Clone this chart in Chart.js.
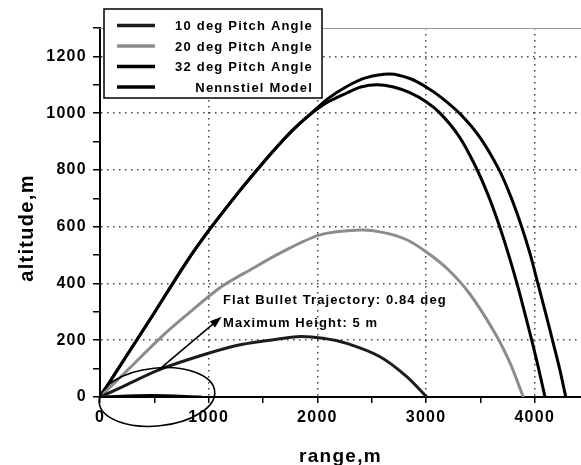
<!DOCTYPE html>
<html>
<head>
<meta charset="utf-8">
<title>Trajectories</title>
<script src="https://cdn.jsdelivr.net/npm/chart.js@4.4.0/dist/chart.umd.min.js"></script>
<style>
html, body { margin: 0; padding: 0; background: #fff; }
canvas { display: block; }
</style>
</head>
<body>
<canvas id="myChart" width="581" height="465"></canvas>
<script>
// values: range (m) and altitude (m) for each trajectory
var range10 = [0, 200, 537, 997, 1300, 1656, 1840, 2050, 2270, 2576, 2822, 3006]
var alt10   = [0, 35, 95, 154, 185, 205, 213, 207, 189, 142, 72, 0]

var range20 = [0, 300, 568, 800, 1119, 1400, 1656, 2024, 2392, 2600, 2822, 3006, 3200, 3404, 3634, 3772, 3894]
var alt20   = [0, 112, 213, 290, 389, 452, 507, 571, 588, 580, 554, 510, 450, 362, 225, 120, 0]

var range32 = [0, 200, 500, 800, 1012, 1272, 1518, 1656, 1794, 1950, 2100, 2270, 2400, 2546, 2700, 2850, 3000, 3128, 3300, 3445, 3570, 3672, 3760, 3836, 3905, 3972, 4035, 4094]
var alt32   = [0, 119, 297, 478, 592, 720, 833, 893, 948, 1000, 1040, 1071, 1092, 1100, 1092, 1072, 1040, 1000, 920, 820, 712, 605, 500, 400, 300, 200, 100, 0]

var rangeNen = [0, 200, 500, 800, 1012, 1272, 1518, 1656, 1794, 1950, 2100, 2270, 2450, 2668, 2850, 3000, 3150, 3332, 3500, 3672, 3780, 3879, 3960, 4028, 4100, 4166, 4228, 4285]
var altNen   = [0, 119, 297, 478, 592, 720, 833, 893, 948, 1002, 1052, 1094, 1125, 1138, 1122, 1092, 1052, 990, 912, 800, 705, 600, 500, 400, 295, 195, 100, 0]

// the 0.84 deg flat shot, hidden in the ellipse
var rangeFlat = [0, 470, 936]
var altFlat   = [0, 5, 0]

var seriesNames = ['10 deg Pitch Angle', '20 deg Pitch Angle', '32 deg Pitch Angle', 'Nennstiel Model']
var xTicks = [0, 500, 1000, 1500, 2000, 2500, 3000, 3500, 4000]
var xLabelStep = 1000
var yLabelStep = 200

var note1 = 'Flat Bullet Trajectory: 0.84 deg'
var note2 = 'Maximum Height: 5 m'
var arrowFrom = [537, 95]
var arrowTo = [1119, 283]
var ellipseCenter = [524, 0]
var ellipseRadius = [534, 102]

function toPoints(xs, ys){
    var pts = []
    for(let i=0;i<xs.length;i++){
        pts.push({x: xs[i], y: ys[i]})
    }
    return pts
}

var FONT = 'Arial, "Liberation Sans", sans-serif'
Chart.defaults.font.family = FONT
Chart.defaults.color = '#000'

var extras = {
    id: 'extras',
    beforeLayout(chart){ chart.ctx.letterSpacing = '1.3px' },
    beforeDraw(chart){ chart.ctx.letterSpacing = '1.3px' },
    afterDraw(chart){
        var ctx = chart.ctx
        var xs = chart.scales.x, ys = chart.scales.y
        var area = chart.chartArea
        ctx.save()

        // thin frame line on top of the plot
        ctx.strokeStyle = '#999'
        ctx.lineWidth = 1
        ctx.beginPath()
        ctx.moveTo(area.left, area.top + 0.5)
        ctx.lineTo(area.right, area.top + 0.5)
        ctx.stroke()

        // ellipse round the flat shot
        ctx.strokeStyle = '#000'
        ctx.lineWidth = 1.6
        var cx = xs.getPixelForValue(ellipseCenter[0]), cy = ys.getPixelForValue(ellipseCenter[1])
        var rx = xs.getPixelForValue(ellipseCenter[0] + ellipseRadius[0]) - cx
        var ry = cy - ys.getPixelForValue(ellipseCenter[1] + ellipseRadius[1])
        ctx.beginPath()
        ctx.ellipse(cx, cy, rx, ry, -0.1, 0, Math.PI * 2)
        ctx.stroke()

        // arrow to the note
        var ax = xs.getPixelForValue(arrowFrom[0]), ay = ys.getPixelForValue(arrowFrom[1])
        var bx = xs.getPixelForValue(arrowTo[0]), by = ys.getPixelForValue(arrowTo[1])
        var ang = Math.atan2(by - ay, bx - ax)
        ctx.lineWidth = 1.6
        ctx.beginPath()
        ctx.moveTo(ax, ay)
        ctx.lineTo(bx - 8 * Math.cos(ang), by - 8 * Math.sin(ang))
        ctx.stroke()
        ctx.fillStyle = '#000'
        ctx.beginPath()
        ctx.moveTo(bx, by)
        ctx.lineTo(bx - 12 * Math.cos(ang) + 4 * Math.sin(ang), by - 12 * Math.sin(ang) - 4 * Math.cos(ang))
        ctx.lineTo(bx - 12 * Math.cos(ang) - 4 * Math.sin(ang), by - 12 * Math.sin(ang) + 4 * Math.cos(ang))
        ctx.closePath()
        ctx.fill()

        // notes
        ctx.letterSpacing = '1.1px'
        ctx.font = 'bold 13px ' + FONT
        ctx.textAlign = 'left'
        ctx.textBaseline = 'middle'
        ctx.fillText(note1, 223, 300)
        ctx.fillText(note2, 223, 323)

        // axis titles
        ctx.letterSpacing = '1.3px'
        ctx.font = 'bold 19px ' + FONT
        ctx.textAlign = 'center'
        ctx.textBaseline = 'alphabetic'
        ctx.fillText('range,m', (area.left + area.right) / 2, 462)
        ctx.save()
        ctx.translate(33, 228)
        ctx.rotate(-Math.PI / 2)
        ctx.font = 'bold 20px ' + FONT
        ctx.fillText('altitude,m', 0, 0)
        ctx.restore()

        // legend box
        ctx.fillStyle = '#fff'
        ctx.fillRect(104, 9, 218, 89)
        ctx.strokeStyle = '#000'
        ctx.lineWidth = 1.5
        ctx.strokeRect(104, 9, 218, 89)
        var rows = [25.5, 46, 66.5, 87]
        ctx.font = 'bold 13px ' + FONT
        ctx.letterSpacing = '1.2px'
        ctx.textAlign = 'right'
        ctx.textBaseline = 'middle'
        for(let i=0;i<4;i++){
            var ds = chart.data.datasets[i]
            ctx.strokeStyle = ds.borderColor
            ctx.lineWidth = ds.borderWidth + 0.5
            ctx.beginPath()
            ctx.moveTo(117, rows[i])
            ctx.lineTo(155, rows[i])
            ctx.stroke()
            ctx.fillStyle = '#000'
            ctx.fillText(ds.label, 313, rows[i] + 1)
        }
        ctx.restore()
    }
}

function tickVal(c){
    return c.tick ? Math.round(c.tick.value) : 0
}
var gridX = function(c){
    var v = tickVal(c)
    return (v % xLabelStep === 0 && v !== 0) ? '#444' : 'rgba(0,0,0,0)'
}
var gridY = function(c){
    var v = tickVal(c)
    return (v % yLabelStep === 0 && v !== 0) ? '#444' : 'rgba(0,0,0,0)'
}

var ctx = document.getElementById('myChart').getContext('2d')
var myChart = new Chart(ctx, {
    type: 'line',
    data: {
        datasets: [
            { label: seriesNames[0], data: toPoints(range10, alt10), borderColor: '#1c1c1c', borderWidth: 3 },
            { label: seriesNames[1], data: toPoints(range20, alt20), borderColor: '#8c8c8c', borderWidth: 3 },
            { label: seriesNames[2], data: toPoints(range32, alt32), borderColor: '#000', borderWidth: 3 },
            { label: seriesNames[3], data: toPoints(rangeNen, altNen), borderColor: '#000', borderWidth: 3 },
            { label: 'flat', data: toPoints(rangeFlat, altFlat), borderColor: '#000', borderWidth: 3 }
        ]
    },
    options: {
        responsive: false,
        animation: false,
        devicePixelRatio: 1,
        elements: {
            point: { radius: 0 },
            line: { tension: 0.3, fill: false }
        },
        layout: { padding: { top: 28, right: 0, left: 0, bottom: 0 } },
        plugins: { legend: { display: false }, tooltip: { enabled: false } },
        scales: {
            x: {
                type: 'linear',
                min: 0,
                max: 4425,
                afterFit: function(s){ s.height = 68 },
                afterBuildTicks: function(s){
                    s.ticks = xTicks.map(function(v){ return {value: v} })
                },
                ticks: {
                    autoSkip: false,
                    maxRotation: 0,
                    minRotation: 0,
                    padding: 5,
                    font: { size: 16, weight: 'bold' },
                    color: '#000',
                    callback: function(v, i, ticks){
                        var val = Math.round(ticks[i].value)
                        return val % xLabelStep === 0 ? String(val) : ''
                    }
                },
                grid: { color: gridX, lineWidth: 1.5, tickColor: '#000', tickWidth: 1.5, tickLength: 6 },
                border: { color: '#000', width: 2, dash: [1.5, 4.5] }
            },
            y: {
                min: 0,
                max: 1300,
                afterFit: function(s){ s.width = 100 },
                ticks: {
                    stepSize: 100,
                    autoSkip: false,
                    padding: 6,
                    font: { size: 16, weight: 'bold' },
                    color: '#000',
                    callback: function(v, i, ticks){
                        var val = Math.round(ticks[i].value)
                        return val % yLabelStep === 0 ? String(val) : ''
                    }
                },
                grid: { color: gridY, lineWidth: 1.5, tickColor: '#000', tickWidth: 1.5, tickLength: 7 },
                border: { color: '#000', width: 2, dash: [1.5, 4.5] }
            }
        }
    },
    plugins: [extras]
})
</script>
</body>
</html>
